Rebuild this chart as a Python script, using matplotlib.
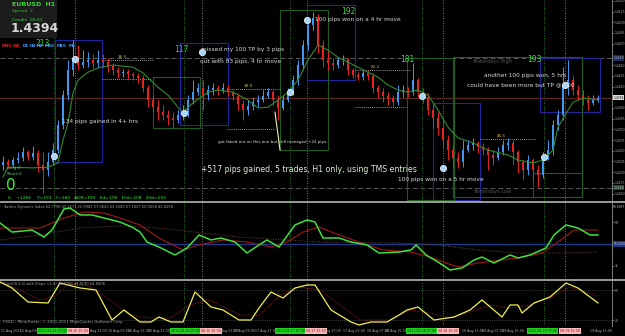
import numpy as np
import matplotlib
matplotlib.use("Agg")
import matplotlib.pyplot as plt
import matplotlib.transforms as mtransforms
from matplotlib.patches import Rectangle

W, H = 625, 336

# EURUSD H1 candles, prices in pips (1.4394 -> 14394)
first_open = 14300
closes = [14304, 14300, 14307, 14310, 14318, 14311, 14317, 14300, 14293, 14304,
          14321, 14356, 14398, 14433, 14450, 14440, 14444, 14447, 14443, 14447,
          14444, 14439, 14433, 14429, 14430, 14427, 14425, 14422, 14408, 14391,
          14381, 14374, 14370, 14366, 14363, 14370, 14374, 14391, 14402, 14408,
          14398, 14405, 14408, 14405, 14408, 14402, 14397, 14385, 14377, 14383,
          14388, 14391, 14397, 14402, 14391, 14380, 14391, 14402, 14419, 14440,
          14468, 14496, 14506, 14468, 14447, 14443, 14440, 14447, 14448, 14433,
          14426, 14423, 14429, 14425, 14408, 14402, 14397, 14394, 14388, 14402,
          14405, 14402, 14419, 14402, 14395, 14377, 14366, 14352, 14335, 14321,
          14310, 14304, 14321, 14328, 14331, 14325, 14321, 14314, 14310, 14318,
          14328, 14331, 14318, 14304, 14293, 14307, 14293, 14286, 14311, 14321,
          14356, 14370, 14412, 14419, 14405, 14398, 14391, 14387, 14391, 14394]
highs = [14312, 14308, 14311, 14318, 14325, 14321, 14326, 14321, 14318, 14318,
         14331, 14363, 14405, 14447, 14475, 14468, 14461, 14458, 14456, 14461,
         14455, 14450, 14443, 14438, 14435, 14434, 14431, 14429, 14426, 14412,
         14398, 14391, 14384, 14377, 14374, 14377, 14384, 14398, 14419, 14415,
         14419, 14412, 14415, 14412, 14415, 14412, 14405, 14401, 14391, 14391,
         14395, 14398, 14405, 14408, 14405, 14398, 14398, 14408, 14426, 14447,
         14475, 14503, 14514, 14512, 14475, 14461, 14450, 14452, 14454, 14450,
         14436, 14431, 14433, 14433, 14429, 14412, 14408, 14402, 14398, 14412,
         14412, 14410, 14443, 14422, 14408, 14401, 14384, 14374, 14363, 14342,
         14328, 14318, 14335, 14335, 14338, 14334, 14331, 14325, 14321, 14325,
         14335, 14338, 14335, 14321, 14307, 14314, 14310, 14300, 14318, 14335,
         14363, 14377, 14438, 14447, 14426, 14412, 14405, 14398, 14398, 14398]
lows = [14293, 14296, 14297, 14303, 14306, 14307, 14307, 14290, 14261, 14284,
        14300, 14317, 14350, 14391, 14425, 14433, 14436, 14438, 14436, 14438,
        14438, 14431, 14426, 14422, 14424, 14420, 14419, 14415, 14402, 14381,
        14374, 14363, 14363, 14356, 14352, 14359, 14363, 14367, 14386, 14398,
        14377, 14391, 14398, 14398, 14401, 14397, 14391, 14377, 14363, 14370,
        14377, 14381, 14388, 14394, 14384, 14363, 14377, 14388, 14398, 14412,
        14433, 14461, 14489, 14457, 14438, 14433, 14433, 14436, 14440, 14426,
        14422, 14419, 14419, 14419, 14401, 14394, 14388, 14384, 14381, 14384,
        14395, 14395, 14398, 14395, 14387, 14370, 14352, 14342, 14324, 14307,
        14296, 14296, 14297, 14318, 14321, 14317, 14314, 14293, 14300, 14307,
        14314, 14321, 14300, 14289, 14279, 14286, 14279, 14269, 14282, 14307,
        14314, 14349, 14363, 14398, 14398, 14391, 14384, 14377, 14384, 14388]

# moving average (candle index, price)
ma_idx = [0, 1, 6, 9, 11, 12, 13, 14, 15, 17, 19, 22, 26, 28, 31, 33, 35, 36, 38, 41,
          43, 46, 49, 51, 53, 55, 57, 59, 61, 63, 65, 67, 69, 71, 73, 75, 77, 79, 81, 83,
          85, 87, 89, 91, 94, 97, 101, 103, 106, 108, 110, 111, 113, 114, 116, 119]
ma_val = [14283, 14297, 14296, 14297, 14303, 14335, 14359, 14401, 14419, 14430,
          14436, 14440, 14437, 14429, 14409, 14398, 14381, 14374, 14387, 14402,
          14405, 14402, 14391, 14380, 14381, 14391, 14402, 14419, 14447, 14468,
          14461, 14451, 14444, 14437, 14430, 14423, 14412, 14405, 14402, 14405,
          14398, 14377, 14353, 14338, 14331, 14321, 14314, 14307, 14303, 14307,
          14321, 14353, 14377, 14388, 14394, 14391]

# trades: entry / exit (candle index, price)
entry_idx = [10.2, 36.2, 57.4, 83.8, 108.2]
entry_px = [14313, 14373, 14402, 14397, 14311]
exit_idx = [14.4, 39.8, 60.8, 88.0, 112.4]
exit_px = [14448, 14458, 14503, 14296, 14412]
trade_pips = ["213", "117", "192", "181", "193"]

# boxes: (idx0, idx1, price0, price1)
blue_boxes = [(10.4, 19.8, 14304, 14475), (35.4, 45.0, 14356, 14471), (60.8, 70.4, 14419, 14524),
              (86.0, 95.4, 14251, 14387), (107.4, 119.4, 14374, 14450)]
green_boxes = [(30.0, 39.4, 14352, 14423), (55.4, 65.0, 14321, 14517), (80.8, 90.2, 14251, 14450),
               (90.0, 115.8, 14255, 14451), (106.0, 115.8, 14255, 14289)]
# dotted range lines (idx0, idx1, price) and their labels
range_lines = [(19.8, 30.0, 14447), (19.8, 29.8, 14420), (44.8, 55.4, 14406), (44.8, 54.4, 14350),
               (70.4, 81.4, 14433), (70.4, 80.8, 14381), (95.4, 106.4, 14336)]
range_labels = ["36.5", "38.9", "62.2", "46.5"]
range_label_pos = [(23.0, 14449), (48.2, 14408), (73.6, 14435), (98.8, 14338)]

yest_high, yest_low, last_price = 14450, 14268, 14394

# Traders Dynamic Index
tdi_green_idx = [-0.6, 1.8, 4.2, 5.8, 8.2, 9.8, 12.2, 13.4, 15.4, 17.8, 20.2, 23.4, 25.8, 27.4,
                 28.8, 31.2, 34.4, 36.8, 39.2, 41.6, 43.6, 46.4, 48.8, 51.2, 52.8, 55.2, 58.4,
                 60.8, 62.4, 64.0, 67.2, 69.6, 72.8, 75.2, 79.2, 81.6, 82.6, 84.6, 87.0, 89.4,
                 91.8, 94.2, 95.8, 98.2, 101.4, 103.0, 105.4, 108.6, 110.2, 112.6, 115.0, 117.4, 119.0]
tdi_green = [67.2, 59.8, 60.7, 61.5, 55.7, 61.5, 78.7, 79.5, 73.8, 73.8, 71.3, 68.0, 63.9, 59.8,
             51.6, 47.5, 41.0, 46.7, 57.4, 53.3, 54.9, 51.6, 42.6, 49.2, 53.3, 47.5, 65.6,
             69.7, 68.0, 54.9, 54.9, 51.6, 49.2, 42.6, 43.4, 45.1, 49.2, 41.0, 35.2, 28.7,
             30.3, 36.9, 39.3, 34.4, 41.0, 38.5, 41.0, 46.7, 57.4, 65.6, 63.1, 57.4, 57.4]
tdi_red_idx = [-0.6, 7.4, 12.2, 16.2, 20.2, 23.4, 27.4, 31.2, 36.0, 39.2, 44.0, 48.8, 53.6, 56.8,
               60.0, 63.2, 67.2, 71.2, 76.0, 81.6, 85.4, 88.6, 91.0, 95.0, 99.8, 103.0, 107.8,
               111.0, 114.2, 119.0]
tdi_red = [63.1, 63.1, 71.3, 76.2, 75.4, 71.3, 65.6, 54.9, 45.1, 49.2, 53.3, 51.6, 47.5, 51.6,
           59.8, 63.9, 57.4, 51.6, 45.1, 43.4, 39.3, 34.4, 31.1, 34.4, 36.9, 38.5, 42.6,
           51.6, 61.5, 61.5]
tdi_base_idx = [-0.6, 7.4, 15.4, 23.4, 31.2, 47.2, 63.2, 79.2, 87.0, 95.0, 103.0, 111.0, 119.0]
tdi_base = [53.3, 57.4, 63.1, 64.8, 63.1, 55.7, 51.6, 50.8, 49.2, 45.1, 42.6, 42.6, 43.4]

# Stochastic
sto_k_idx = [-0.6, 1.8, 5.0, 9.0, 11.4, 13.0, 15.4, 18.6, 21.8, 24.2, 27.4, 29.6, 31.2, 33.6,
             36.0, 38.4, 41.6, 44.0, 47.2, 49.6, 51.2, 53.6, 56.0, 58.4, 60.8, 62.4, 65.6,
             69.6, 71.2, 73.6, 76.8, 79.2, 80.8, 83.0, 86.2, 90.2, 93.4, 95.8, 99.8, 101.4,
             103.0, 103.8, 106.2, 109.4, 112.6, 115.0, 119.0]
sto_k = [96, 84, 56, 54, 94, 90, 84, 80, 20, 40, 16, 16, 26, 16,
         16, 76, 46, 40, 20, 20, 44, 76, 64, 84, 90, 90, 40,
         16, 10, 16, 16, 30, 40, 46, 20, 26, 40, 60, 26, 50,
         50, 34, 54, 66, 94, 84, 54]
sto_d_idx = [-0.6, 3.4, 7.4, 10.6, 13.0, 17.4, 21.4, 25.4, 29.4, 33.4, 37.4, 41.4, 47.4, 51.4,
             55.4, 59.4, 63.4, 67.4, 71.4, 77.4, 81.4, 85.4, 89.4, 93.4, 97.4, 101.4, 105.4,
             109.4, 113.4, 119.0]
sto_d = [96, 80, 60, 68, 92, 88, 60, 30, 24, 24, 50, 60, 30, 30,
         70, 86, 80, 50, 20, 20, 40, 34, 24, 36, 50, 44, 50,
         64, 86, 68]

time_x = [1, 20, 38, 68, 90, 108, 128, 148, 171, 201, 216, 233, 255, 276, 306, 324, 343,
          367, 385, 407, 438, 462, 482, 502, 528, 560, 590]
time_text = ["11 Aug 2011", "12 Aug 09:00", "2011.08.15 07:00", "08.15 15:00", "Aug 21:00",
             "16 Aug 05:00", "16 Aug 13:00", "16 Aug 21:00", "2011.08.16 07:00", "08.16 15:00",
             "17 Aug 01:00", "17 Aug 09:00", "17 Aug 17:00", "2011.08.17 07:00", "08.17 15:00",
             "Aug 17:00", "17 Aug 23:00", "18 Aug 07:00", "18 Aug 15:00", "2011.08.18 07:00",
             "08.18 15:00", "18 Aug 23:00", "19 Aug 07:00", "19 Aug 15:00", "2011.08.19 07:00",
             "08.19 15:00", "19 Aug 23:00"]
time_kind = "nngpnnnngpnnngpnnnngpnnngpn"

BLUE = "#3f98f0"
RED = "#e5231f"
XLIM = (-0.6, 121.8)
LBL = 2.2  # tiny axis label size


def fxy(x, y):
    return x / W, 1 - y / H


def new_axes(fig, top, bottom):
    ax = fig.add_axes([0, 1 - bottom / H, 612 / W, (bottom - top) / H])
    ax.set_facecolor("black")
    for s in ax.spines.values():
        s.set_visible(False)
    ax.set_xlim(*XLIM)
    ax.set_xticks([])
    ax.yaxis.tick_right()
    ax.tick_params(axis="y", colors="#b0b0b0", labelsize=LBL, length=1.2, width=0.4, pad=0.6)
    # session lines at entries (green) and exits (white)
    for xi in entry_idx:
        ax.axvline(xi, color="#2a9a2a", lw=0.6, ls=(0, (1, 2)), zorder=1)
    for xi in exit_idx:
        ax.axvline(xi, color="#a0a0a0", lw=0.6, ls=(0, (1, 2)), zorder=1)
    return ax


def ftext(fig, x, y, s, **kw):
    kw.setdefault("va", "center")
    kw.setdefault("ha", "left")
    fig.text(*fxy(x, y), s, **kw)


def side_label(ax, y, s, fc, col):
    tr = mtransforms.blended_transform_factory(ax.transAxes, ax.transData)
    ax.text(1.002, y, s, transform=tr, fontsize=LBL, color=col, va="center", ha="left",
            bbox=dict(fc=fc, ec="none", pad=0.4), zorder=7, clip_on=False)


def main():
    fig = plt.figure(figsize=(W / 100, H / 100), dpi=100, facecolor="black")

    # ---------------- main price chart ----------------
    ax = new_axes(fig, 0, 201)
    ax.set_ylim(14249.6, 14531.2)
    boxed = [last_price, yest_high, yest_low]
    ticks = [t for t in range(14260, 14531, 15) if min(abs(t - b) for b in boxed) > 6]
    ax.set_yticks(ticks)
    ax.set_yticklabels([f"{t / 10000:.4f}" for t in ticks])

    c = np.array(closes, dtype=float)
    o = np.array([first_open] + closes[:-1], dtype=float)
    hi = np.array(highs, dtype=float)
    lo = np.array(lows, dtype=float)
    x = np.arange(len(c))
    cols = [BLUE if cc >= oo else RED for oo, cc in zip(o, c)]

    ax.axhline(yest_high, color="#5a5a5a", lw=0.7, ls=(0, (5, 3)), zorder=1)
    ax.axhline(yest_low, color="#5a5a5a", lw=0.7, ls=(0, (5, 3)), zorder=1)
    ax.axhline(last_price, color="#5a2a1e", lw=0.9, zorder=1)

    for (i0, i1, p0, p1) in blue_boxes:
        ax.add_patch(Rectangle((i0, p0), i1 - i0, p1 - p0, fill=False, ec="#23239c", lw=0.8, zorder=2))
    for (i0, i1, p0, p1) in green_boxes:
        ax.add_patch(Rectangle((i0, p0), i1 - i0, p1 - p0, fill=False, ec="#1f5a1f", lw=0.8, zorder=2))
    for (i0, i1, p) in range_lines:
        ax.plot([i0, i1], [p, p], color="#c8c8c8", lw=0.6, ls=(0, (1, 1.5)), zorder=2)
    for s, (xi, p) in zip(range_labels, range_label_pos):
        ax.text(xi, p, s, color="#d2c040", fontsize=3, va="bottom", zorder=5)

    ax.vlines(x, lo, hi, colors=cols, lw=0.7, zorder=3)
    ax.bar(x, np.maximum(np.abs(c - o), 0.8), bottom=np.minimum(o, c), width=0.45,
           color=cols, lw=0, zorder=3)

    ax.plot(ma_idx, ma_val, color="#2f8a2f", lw=0.8, zorder=4)

    # pointer line for the faked-out trade
    ax.plot([54.4, 55.4], [14374, 14321], color="#f0f0b0", lw=0.8, zorder=5)

    ax.plot(entry_idx, entry_px, "o", ms=4.5, mfc="#a8d4f8", mec="white", mew=0.5, zorder=6)
    ax.plot(exit_idx, exit_px, "o", ms=4.5, mfc="#a8d4f8", mec="white", mew=0.5, zorder=6)

    side_label(ax, last_price, f"{last_price / 10000:.4f}", "#e0e0e0", "black")
    side_label(ax, yest_high, f"{yest_high / 10000:.4f}", "#1a2a5a", "#c0c0c0")
    side_label(ax, yest_low, f"{yest_low / 10000:.4f}", "#1a4a2a", "#c0c0c0")

    # info panel
    fig.patches.append(Rectangle(fxy(0, 38), 57 / W, 38 / H, transform=fig.transFigure,
                                 fc="#1c1c1c", ec="none", zorder=5))
    ftext(fig, 12, 5, "EURUSD  H1", color="#33dd33", fontsize=4.5, fontweight="bold", zorder=6)
    ftext(fig, 12, 11, "Spread  2", color="#33bb33", fontsize=3.2, zorder=6)
    ftext(fig, 12, 20, "Candle  00:01", color="#44cc44", fontsize=3.2, zorder=6)
    ftext(fig, 11, 29, "1.4394", color="#d8d8d8", fontsize=9, fontweight="bold", zorder=6)

    tf = [("MN1", 2, "#ee2222"), ("W1", 13, "#ee2222"), ("D1", 23, "#4aa0ff"), ("H4", 30, "#4aa0ff"),
          ("H1", 37, "#4aa0ff"), ("M30", 45, "#4aa0ff"), ("M15", 57, "#4aa0ff"), ("M5", 69, "#4aa0ff")]
    for s, xx, col in tf:
        ftext(fig, xx, 46, s, color=col, fontsize=3.0, fontweight="bold")

    pips_pos = [(35, 43), (174, 50), (341, 12), (400, 60), (527, 60)]
    for s, (xx, yy) in zip(trade_pips, pips_pos):
        ftext(fig, xx, yy, s, color="#33e033", fontsize=5.5)

    note = dict(color="#d8d8d8", fontsize=4.2)
    ftext(fig, 62, 121, "134 pips gained in 4+ hrs", **note)
    ftext(fig, 201, 50, "missed my 100 TP by 3 pips", **note)
    ftext(fig, 200, 62, "out with 83 pips, 4 hr move", **note)
    ftext(fig, 315, 20, "100 pips won on a 4 hr move", **note)
    ftext(fig, 218, 142, "got faked out on this one but still managed +24 pips.", color="#d8d8d8", fontsize=3)
    ftext(fig, 201, 169, "+517 pips gained, 5 trades, H1 only, using TMS entries", color="#d8f0d0", fontsize=5.6)
    ftext(fig, 398, 179, "100 pips won on a 5 hr move", **note)
    ftext(fig, 484, 76, "another 100 pips won, 5 hrs", **note)
    ftext(fig, 467, 85, "could have been more but TP @ 100", **note)
    ftext(fig, 472, 62, "Yesterdays High", color="#555555", fontsize=3.6)
    ftext(fig, 473, 191, "Yesterdays Low", color="#555555", fontsize=3.6)

    ftext(fig, 7, 168, "Long:0", color="#55cc55", fontsize=3.2)
    ftext(fig, 7, 174, "Short:0", color="#55cc55", fontsize=3.2)
    ftext(fig, 6, 186, "0", color="#33ee33", fontsize=11)
    ftext(fig, 8, 198, "0    +1284", color="#33ee33", fontsize=3.2)
    ftext(fig, 37, 198, "Y=193   Y=180   ADR=190   5d=178   10d=208   20d=193", color="#33ee33", fontsize=3.2)

    # ---------------- Traders Dynamic Index ----------------
    ax2 = new_axes(fig, 203, 279)
    ax2.set_ylim(21.3, 83.6)
    ax2.set_yticks([68, 32])
    ax2.axhline(50, color="#1c3a8c", lw=1.0, zorder=1)
    ax2.plot(tdi_base_idx, tdi_base, color="#6a4a30", lw=0.7, ls=(0, (1, 1.5)), zorder=2)
    ax2.plot(tdi_red_idx, tdi_red, color="#a01818", lw=0.8, zorder=3)
    ax2.plot(tdi_green_idx, tdi_green, color="#3ee03e", lw=1.1, zorder=4)
    side_label(ax2, 50, "50.0000", "#1c3a8c", "#c0c0c0")
    side_label(ax2, 80, "83.6837", "black", "#c0c0c0")
    ftext(fig, 3, 207, "Traders Dynamic Index 62.7798 45.1671 25.9981 57.0620 63.3000 67.1827 55.0058 40.0258",
          color="#a0a0a0", fontsize=2.6)

    # ---------------- Stochastic ----------------
    ax3 = new_axes(fig, 281, 326)
    ax3.set_ylim(8, 98)
    ax3.set_yticks([80, 20])
    for lv in (80, 20):
        ax3.axhline(lv, color="#707070", lw=0.5, ls=(0, (1, 2)), zorder=1)
    ax3.plot(sto_d_idx, sto_d, color="#a02020", lw=0.6, ls=(0, (1, 1)), zorder=2)
    ax3.plot(sto_k_idx, sto_k, color="#f0f050", lw=0.9, zorder=3)
    ftext(fig, 3, 284, "Stoch(8,3,3) with Slope =1.0) 45.8798 49.8190 54.8008", color="#a0a0a0", fontsize=2.6)
    ftext(fig, 3, 322, "FXDD - MetaTrader, \u00a9 2001-2011 MetaQuotes Software Corp.", color="#a0a0a0", fontsize=2.8)

    # separators and right border
    for yy in (202, 280):
        fig.add_artist(plt.Line2D([0, 1], [1 - yy / H] * 2, transform=fig.transFigure,
                                  color="#a8a8a8", lw=1.3))
    fig.add_artist(plt.Line2D([612 / W] * 2, [1 - 326 / H, 1], transform=fig.transFigure,
                              color="#909090", lw=0.6))

    # time axis
    for xx, s, k in zip(time_x, time_text, time_kind):
        if k == "g":
            ftext(fig, xx, 331, s, color="#103010", fontsize=2.3,
                  bbox=dict(fc="#22d022", ec="none", pad=0.8))
        elif k == "p":
            ftext(fig, xx, 331, s, color="#701010", fontsize=2.3,
                  bbox=dict(fc="#ffb8b8", ec="none", pad=0.8))
        else:
            ftext(fig, xx, 331, s, color="#b0b0b0", fontsize=2.3)

    fig.savefig("out.png", dpi=100, facecolor="black")
    plt.close(fig)


if __name__ == '__main__':
    main()
